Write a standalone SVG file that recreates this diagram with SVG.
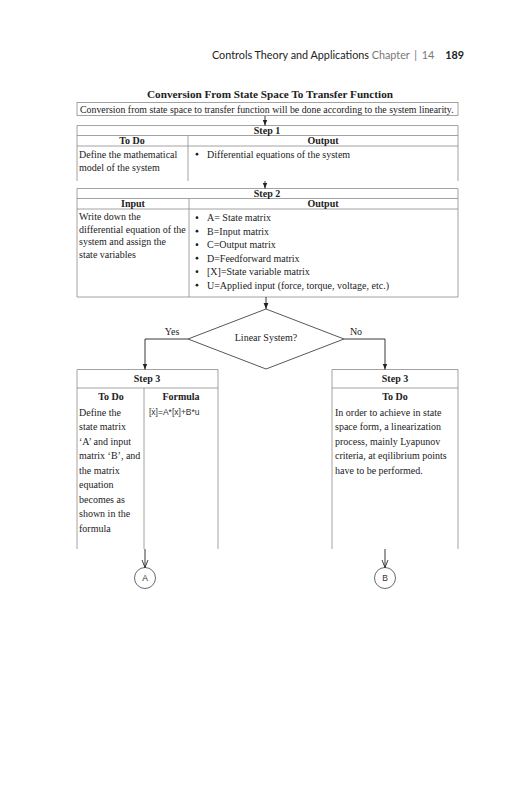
<svg xmlns="http://www.w3.org/2000/svg" width="531" height="800" viewBox="0 0 531 800">
<style>
.t{font-family:"Liberation Serif","Times New Roman",serif;font-size:10px;fill:#222}
.b{font-family:"Liberation Serif","Times New Roman",serif;font-size:10px;font-weight:bold;fill:#222}
.ti{font-family:"Liberation Serif","Times New Roman",serif;font-size:11.2px;font-weight:bold;fill:#222}
.it{font-family:"Liberation Serif","Times New Roman",serif;font-size:9.85px;fill:#222}
.h{font-family:Lato,"Open Sans",sans-serif;font-size:10.8px;fill:#222}
.g{fill:#777}
.s{font-family:"Liberation Sans",Arial,sans-serif;font-size:8.5px;fill:#333}
.box{fill:none;stroke:#8c8c8c;stroke-width:0.8}
.ln{fill:none;stroke:#8c8c8c;stroke-width:0.8}
.ar{fill:none;stroke:#222;stroke-width:0.9}
.dm{fill:none;stroke:#444;stroke-width:0.9}
.bu{fill:#222}
</style>
<defs>
<marker id="fh" viewBox="0 0 10 10" refX="10" refY="5" markerWidth="6" markerHeight="6" orient="auto" markerUnits="userSpaceOnUse"><path d="M0,1 L10,5 L0,9 Z" fill="#222"/></marker>
<marker id="oh" viewBox="0 0 10 10" refX="10" refY="5" markerWidth="8" markerHeight="8" orient="auto" markerUnits="userSpaceOnUse"><path d="M0,1 L10,5 L0,9" fill="none" stroke="#222" stroke-width="1.1"/></marker>
</defs>
<rect width="531" height="800" fill="#fff"/>
<g id="header">
<text x="212" y="59" class="h">Controls Theory and Applications <tspan class="g">Chapter</tspan> <tspan class="g" dx="2">|</tspan> <tspan class="g" dx="2">14</tspan> <tspan dx="8" font-weight="bold">189</tspan></text>
</g>
<g id="title">
<text x="270" y="98" text-anchor="middle" class="ti">Conversion From State Space To Transfer Function</text>
</g>
<g id="intro">
<rect x="77" y="102.5" width="381" height="13" class="box"/>
<text x="80" y="112.5" class="it">Conversion from state space to transfer function will be done according to the system linearity.</text>
</g>
<g id="step1">
<path d="M77,181 V125.5 H458 V181 M77,135.5 H458 M77,146 H458 M188,135.5 V181" class="ln"/>
<text x="267" y="133.8" text-anchor="middle" class="b">Step 1</text>
<text x="132" y="144.3" text-anchor="middle" class="b">To Do</text>
<text x="323" y="144.3" text-anchor="middle" class="b">Output</text>
<text x="79" y="157.5" class="t">Define the mathematical</text>
<text x="79" y="170.5" class="t">model of the system</text>
<circle cx="197" cy="154.2" r="1.4" class="bu"/>
<text x="207" y="157.5" class="t">Differential equations of the system</text>
</g>
<g id="step2">
<path d="M77,188.5 H458 V297 H77 Z M77,198.5 H458 M77,209 H458 M189,198.5 V297" class="ln"/>
<text x="267" y="196.8" text-anchor="middle" class="b">Step 2</text>
<text x="133" y="207.3" text-anchor="middle" class="b">Input</text>
<text x="323" y="207.3" text-anchor="middle" class="b">Output</text>
<text x="79" y="220" class="t">Write down the</text>
<text x="79" y="232.5" class="t">differential equation of the</text>
<text x="79" y="245" class="t">system and assign the</text>
<text x="79" y="257.5" class="t">state variables</text>
<g class="bu">
<circle cx="197" cy="217.7" r="1.4"/>
<circle cx="197" cy="231.2" r="1.4"/>
<circle cx="197" cy="244.7" r="1.4"/>
<circle cx="197" cy="258.2" r="1.4"/>
<circle cx="197" cy="271.7" r="1.4"/>
<circle cx="197" cy="285.2" r="1.4"/>
</g>
<g class="t">
<text x="207" y="221">A= State matrix</text>
<text x="207" y="234.5">B=Input matrix</text>
<text x="207" y="248">C=Output matrix</text>
<text x="207" y="261.5">D=Feedforward matrix</text>
<text x="207" y="275">[X]=State variable matrix</text>
<text x="207" y="288.5">U=Applied input (force, torque, voltage, etc.)</text>
</g>
</g>
<g id="decision">
<path d="M266,309 L344,339 L266,369 L188,339 Z" class="dm"/>
<text x="266" y="341" text-anchor="middle" class="t">Linear System?</text>
</g>
<g id="step3-linear">
<path d="M77,549 V369.5 H218 V549 M77,388 H218 M144,388 V549" class="ln"/>
<text x="147" y="381.5" text-anchor="middle" class="b">Step 3</text>
<text x="111" y="399.5" text-anchor="middle" class="b">To Do</text>
<text x="181" y="399.5" text-anchor="middle" class="b">Formula</text>
<text x="149" y="415" class="s">[ẋ]=A*[x]+B*u</text>
<g class="t">
<text x="79" y="415.5">Define the</text>
<text x="79" y="430">state matrix</text>
<text x="79" y="444.5">‘A’ and input</text>
<text x="79" y="459">matrix ‘B’, and</text>
<text x="79" y="473.5">the matrix</text>
<text x="79" y="488">equation</text>
<text x="79" y="502.5">becomes as</text>
<text x="79" y="517">shown in the</text>
<text x="79" y="531.5">formula</text>
</g>
</g>
<g id="step3-nonlinear">
<path d="M332,549 V369.5 H458 V549 M332,388 H458" class="ln"/>
<text x="395" y="381.5" text-anchor="middle" class="b">Step 3</text>
<text x="395" y="399.5" text-anchor="middle" class="b">To Do</text>
<g class="t">
<text x="335" y="415.5">In order to achieve in state</text>
<text x="335" y="430">space form, a linearization</text>
<text x="335" y="444.5">process, mainly Lyapunov</text>
<text x="335" y="459">criteria, at eqilibrium points</text>
<text x="335" y="473.5">have to be performed.</text>
</g>
</g>
<g id="nodeA">
<circle cx="145" cy="578" r="10.5" fill="none" stroke="#444" stroke-width="0.8"/>
<text x="145" y="581" text-anchor="middle" class="s">A</text>
</g>
<g id="nodeB">
<circle cx="385" cy="578" r="10.5" fill="none" stroke="#444" stroke-width="0.8"/>
<text x="385" y="581" text-anchor="middle" class="s">B</text>
</g>
<g id="connectors">
<path d="M265,116 V125.5" class="ar" marker-end="url(#fh)"/>
<path d="M265,181 V188.5" class="ar" marker-end="url(#fh)"/>
<path d="M266,297 V309" class="ar" marker-end="url(#fh)"/>
<path d="M188,339 H145 V369.5" class="ar" marker-end="url(#fh)"/>
<path d="M344,339 H385 V369.5" class="ar" marker-end="url(#fh)"/>
<path d="M145,549 V567.5" class="ar" marker-end="url(#oh)"/>
<path d="M385,549 V567.5" class="ar" marker-end="url(#oh)"/>
<text x="172" y="335" text-anchor="middle" class="t">Yes</text>
<text x="356" y="335" text-anchor="middle" class="t">No</text>
</g>
</svg>
